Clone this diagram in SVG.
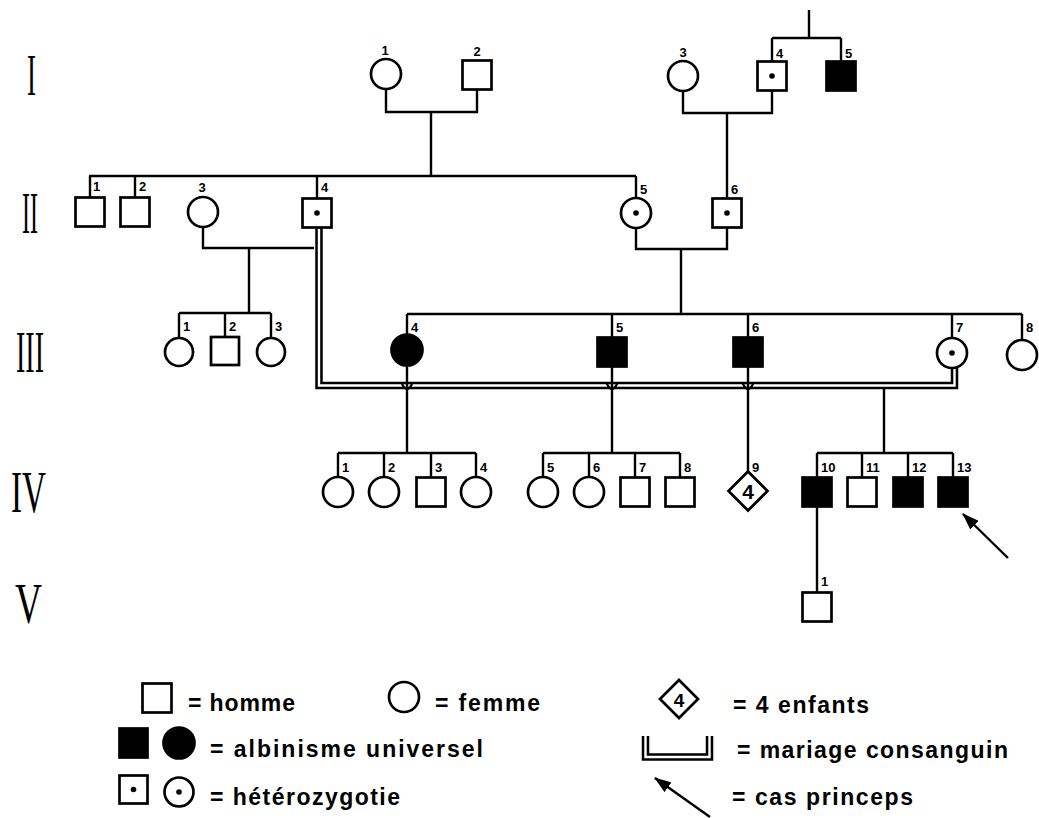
<svg xmlns="http://www.w3.org/2000/svg" width="1039" height="818" viewBox="0 0 1039 818">
<style>
.s{fill:#fff;stroke:#000;stroke-width:2.7}
.a{fill:#000;stroke:#000;stroke-width:2.7}
.d{fill:#000}
.ln{stroke:#000;stroke-width:2.4;fill:none}
.dbl{stroke:#000;stroke-width:7.5;fill:none;stroke-linejoin:miter}
.dblw{stroke:#fff;stroke-width:2.4;fill:none;stroke-linejoin:miter}
.n{font-family:"Liberation Sans",Arial,sans-serif;font-weight:bold;font-size:13px;fill:#000}
.big{font-family:"Liberation Sans",Arial,sans-serif;font-weight:bold;font-size:21px;fill:#000}
.lg{font-family:"Liberation Sans",Arial,sans-serif;font-weight:bold;font-size:23px;fill:#000}
.g{font-family:"Liberation Serif","Times New Roman",serif;font-size:60px;fill:#000}
</style>
<defs>
<marker id="arr" markerUnits="userSpaceOnUse" markerWidth="18" markerHeight="12" refX="16" refY="6" orient="auto">
<path d="M0,0 L17,6 L0,12 Z" fill="#000"/>
</marker>
</defs>
<rect width="1039" height="818" fill="#fff"/>

<g id="generations">
<text class="g" x="27" y="95" textLength="9" lengthAdjust="spacingAndGlyphs">I</text>
<text class="g" x="22" y="233" textLength="16" lengthAdjust="spacingAndGlyphs">II</text>
<text class="g" x="16" y="372" textLength="28" lengthAdjust="spacingAndGlyphs">III</text>
<text class="g" x="11" y="512" textLength="35" lengthAdjust="spacingAndGlyphs">IV</text>
<text class="g" x="15" y="623" textLength="27" lengthAdjust="spacingAndGlyphs" style="font-size:57px">V</text>
</g>

<g id="connectors">
<path class="ln" d="M809 10 V38 M772 38 H841 M772 38 V61.5 M841 38 V61.5"/>
<path class="ln" d="M386 89 V112 H477 V89.5 M431 112 V176"/>
<path class="ln" d="M683 91 V113 H772 V90.5 M727 113 V198.5"/>
<path class="ln" d="M89 176 H636 M90 176 V197.5 M135 176 V197.5 M317 176 V198.5 M636 176 V198"/>
<path class="ln" d="M636 228 V249 H727 V227.5 M681 249 V314"/>
<path class="ln" d="M203 227 V248 H314 M249 248 V313"/>
<path class="ln" d="M179 313 H271 M179 313 V338 M225 313 V337 M271 313 V338"/>
<path class="ln" d="M407 314 H1022 M407 314 V334 M612 314 V337 M748 314 V337 M952 314 V338 M1022 314 V340"/>
<path class="dbl" d="M319 227.5 V385.5 H954.5 V368"/>
<path class="dblw" d="M319 227.5 V385.5 H954.5 V368"/>
<path class="ln" d="M407 366 V453 M612 367 V453 M748 367 V471.5"/>
<path class="ln" stroke-width="1.6" d="M402 384 Q407 394 412 384 M607 384 Q612 394 617 384 M743 384 Q748 394 753 384"/>
<path class="ln" d="M884 388 V453"/>
<path class="ln" d="M338 453 H476 M338 453 V477 M384 453 V477 M431 453 V477.5 M476 453 V477"/>
<path class="ln" d="M543 453 H680 M543 453 V477 M589 453 V477 M635 453 V477.5 M680 453 V477.5"/>
<path class="ln" d="M817 453 H953 M817 453 V477.5 M862 453 V477.5 M908 453 V477.5 M953 453 V477.5"/>
<path class="ln" d="M817 507 V592.5"/>
<path class="ln" stroke-width="2.6" d="M1008 558 L963 514" marker-end="url(#arr)"/>
</g>

<g id="I-1"><circle class="s" cx="386" cy="74" r="15"/><text class="n" x="385" y="55" text-anchor="middle">1</text></g>
<g id="I-2"><rect class="s" x="462.5" y="60.5" width="29" height="29"/><text class="n" x="477" y="56" text-anchor="middle">2</text></g>
<g id="I-3"><circle class="s" cx="683" cy="76" r="15"/><text class="n" x="683" y="57" text-anchor="middle">3</text></g>
<g id="I-4"><rect class="s" x="757.5" y="61.5" width="29" height="29"/><circle class="d" cx="772" cy="76" r="2.8"/><text class="n" x="776" y="58">4</text></g>
<g id="I-5"><rect class="a" x="826.5" y="61.5" width="29" height="29"/><text class="n" x="845" y="58">5</text></g>

<g id="II-1"><rect class="s" x="75.5" y="197.5" width="29" height="29"/><text class="n" x="93" y="191">1</text></g>
<g id="II-2"><rect class="s" x="120.5" y="197.5" width="29" height="29"/><text class="n" x="139" y="191">2</text></g>
<g id="II-3"><circle class="s" cx="203" cy="212" r="15"/><text class="n" x="202" y="192" text-anchor="middle">3</text></g>
<g id="II-4"><rect class="s" x="302.5" y="198.5" width="29" height="29"/><circle class="d" cx="317" cy="213" r="2.8"/><text class="n" x="321" y="192">4</text></g>
<g id="II-5"><circle class="s" cx="636" cy="213" r="15"/><circle class="d" cx="636" cy="213" r="2.8"/><text class="n" x="640" y="194">5</text></g>
<g id="II-6"><rect class="s" x="712.5" y="198.5" width="29" height="29"/><circle class="d" cx="727" cy="213" r="2.8"/><text class="n" x="731" y="194">6</text></g>

<g id="III-1"><circle class="s" cx="179" cy="352" r="14"/><text class="n" x="183" y="331">1</text></g>
<g id="III-2"><rect class="s" x="211" y="337" width="28" height="28"/><text class="n" x="229" y="331">2</text></g>
<g id="III-3"><circle class="s" cx="271" cy="352" r="14"/><text class="n" x="275" y="331">3</text></g>
<g id="III-4"><circle class="a" cx="407" cy="350" r="15.5"/><text class="n" x="411" y="332">4</text></g>
<g id="III-5"><rect class="a" x="597.5" y="337.5" width="29" height="29"/><text class="n" x="616" y="332">5</text></g>
<g id="III-6"><rect class="a" x="733.5" y="337.5" width="29" height="29"/><text class="n" x="752" y="332">6</text></g>
<g id="III-7"><circle class="s" cx="952" cy="353" r="15"/><circle class="d" cx="952" cy="353" r="2.8"/><text class="n" x="956" y="332">7</text></g>
<g id="III-8"><circle class="s" cx="1022" cy="355" r="15"/><text class="n" x="1026" y="332">8</text></g>

<g id="IV-1"><circle class="s" cx="338" cy="492" r="15"/><text class="n" x="342" y="472">1</text></g>
<g id="IV-2"><circle class="s" cx="384" cy="492" r="15"/><text class="n" x="388" y="472">2</text></g>
<g id="IV-3"><rect class="s" x="416.5" y="477.5" width="29" height="29"/><text class="n" x="435" y="472">3</text></g>
<g id="IV-4"><circle class="s" cx="476" cy="492" r="15"/><text class="n" x="480" y="472">4</text></g>
<g id="IV-5"><circle class="s" cx="543" cy="492" r="15"/><text class="n" x="547" y="472">5</text></g>
<g id="IV-6"><circle class="s" cx="589" cy="492" r="15"/><text class="n" x="593" y="472">6</text></g>
<g id="IV-7"><rect class="s" x="620.5" y="477.5" width="29" height="29"/><text class="n" x="639" y="472">7</text></g>
<g id="IV-8"><rect class="s" x="665.5" y="477.5" width="29" height="29"/><text class="n" x="684" y="472">8</text></g>
<g id="IV-9"><path class="s" d="M748 471.5 L767.5 491 L748 510.5 L728.5 491 Z"/><text class="big" x="748" y="498.5" text-anchor="middle">4</text><text class="n" x="752" y="472">9</text></g>
<g id="IV-10"><rect class="a" x="802.5" y="477.5" width="29" height="29"/><text class="n" x="821" y="472">10</text></g>
<g id="IV-11"><rect class="s" x="847.5" y="477.5" width="29" height="29"/><text class="n" x="866" y="472">11</text></g>
<g id="IV-12"><rect class="a" x="893.5" y="477.5" width="29" height="29"/><text class="n" x="912" y="472">12</text></g>
<g id="IV-13"><rect class="a" x="938.5" y="477.5" width="29" height="29"/><text class="n" x="957" y="472">13</text></g>

<g id="V-1"><rect class="s" x="802.5" y="592.5" width="29" height="29"/><text class="n" x="821" y="586">1</text></g>

<g id="legend">
<rect class="s" x="142.5" y="683.5" width="29" height="29"/>
<text class="lg" x="188" y="711" textLength="107" lengthAdjust="spacing">= homme</text>
<circle class="s" cx="404" cy="697" r="15"/>
<text class="lg" x="435" y="711" textLength="105" lengthAdjust="spacing">= femme</text>
<rect class="a" x="119.5" y="728.5" width="28" height="29"/>
<circle class="a" cx="179" cy="743" r="15.5"/>
<text class="lg" x="210" y="757" textLength="273" lengthAdjust="spacing">= albinisme  universel</text>
<rect class="s" x="119.5" y="775.5" width="28" height="28"/><circle class="d" cx="133.5" cy="789.5" r="2.8"/>
<circle class="s" cx="179" cy="792" r="14.5"/><circle class="d" cx="179" cy="792" r="2.8"/>
<text class="lg" x="210" y="805" textLength="190" lengthAdjust="spacing">= hétérozygotie</text>
<path class="s" d="M679 680 L698 699 L679 718 L660 699 Z"/>
<text class="big" x="679" y="706.5" text-anchor="middle" style="font-size:19px">4</text>
<text class="lg" x="733" y="713" textLength="136" lengthAdjust="spacing">= 4 enfants</text>
<path class="dbl" d="M645.5 736 V757 H709.5 V736"/>
<path class="dblw" d="M645.5 736 V757 H709.5 V736"/>
<text class="lg" x="737" y="758" textLength="271" lengthAdjust="spacing">= mariage  consanguin</text>
<path class="ln" stroke-width="2.6" d="M710 817 L655 778" marker-end="url(#arr)"/>
<text class="lg" x="732" y="805" textLength="181" lengthAdjust="spacing">= cas  princeps</text>
</g>
</svg>
